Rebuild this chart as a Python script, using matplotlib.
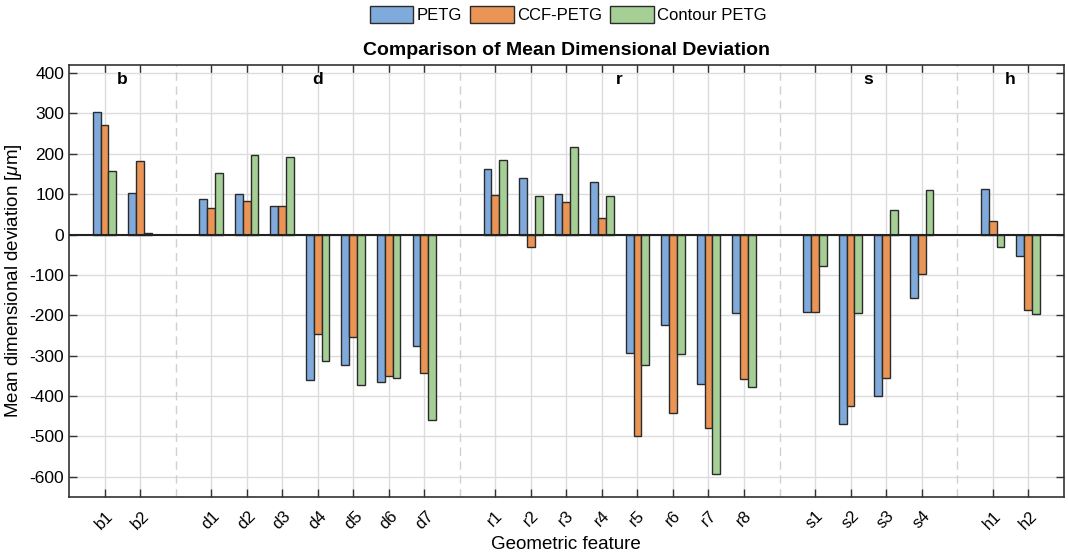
import matplotlib
matplotlib.use("Agg")
import matplotlib.pyplot as plt
import numpy as np

plt.rcParams['font.family'] = ['Liberation Sans', 'DejaVu Sans']
plt.rcParams['mathtext.fontset'] = 'custom'
plt.rcParams['mathtext.it'] = 'Liberation Sans:italic'
plt.rcParams['mathtext.rm'] = 'Liberation Sans'
plt.rcParams['axes.unicode_minus'] = False

features = ['b1', 'b2', 'd1', 'd2', 'd3', 'd4', 'd5', 'd6', 'd7',
            'r1', 'r2', 'r3', 'r4', 'r5', 'r6', 'r7', 'r8',
            's1', 's2', 's3', 's4', 'h1', 'h2']
group_names = ['b', 'd', 'r', 's', 'h']
group_sizes = [2, 7, 8, 4, 2]
series_names = ['PETG', 'CCF-PETG', 'Contour PETG']

petg = [303, 104, 88, 101, 71, -359, -323, -365, -275,
        162, 139, 101, 130, -294, -224, -370, -195,
        -191, -470, -399, -157, 114, -54]
ccf_petg = [271, 183, 66, 83, 71, -247, -254, -350, -343,
            97, -31, 80, 40, -500, -441, -480, -358,
            -191, -425, -354, -98, 34, -187]
contour_petg = [158, 3, 152, 196, 191, -313, -372, -355, -459,
                184, 96, 217, 96, -323, -297, -593, -378,
                -78, -194, 60, 111, -31, -196]

colors = ['#80aadb', '#ea9555', '#a5cf95']

# positions: groups separated by one empty slot
pos = []
group_centers = []
separators = []
x = 1
for gi, n in enumerate(group_sizes):
    start = x
    for _ in range(n):
        pos.append(x)
        x += 1
    group_centers.append((start + x - 1) / 2)
    if gi < len(group_sizes) - 1:
        separators.append(x)
        x += 1
pos = np.array(pos, dtype=float)

fig = plt.figure(figsize=(10.68, 5.57), dpi=100)
ax = fig.add_axes([0.0646, 0.1077, 0.9314, 0.7756])

w = 0.22
handles = []
for i, (vals, c, name) in enumerate(zip([petg, ccf_petg, contour_petg], colors, series_names)):
    h = ax.bar(pos + (i - 1) * w, vals, width=w, color=c, edgecolor='#2b2b2b',
               linewidth=1.0, label=name, zorder=3)
    handles.append(h)

ax.axhline(0, color='#222222', linewidth=1.5, zorder=4)

for s in separators:
    ax.axvline(s, color='#d0d0d0', linestyle=(0, (6, 4)), linewidth=1.0, zorder=1)

for gc, gn in zip(group_centers, group_names):
    ax.text(gc, 385, gn, ha='center', va='center', fontsize=12.5, fontweight='bold')

ax.set_xlim(0, 28)
ax.set_ylim(-650, 420)
ax.set_yticks(np.arange(-600, 401, 100))
ax.set_xticks(pos)
ax.set_xticklabels(features, rotation=45, ha='center', fontsize=12)
ax.tick_params(axis='y', labelsize=12.5, direction='in', length=6, right=True, width=1, color='#333333')
ax.tick_params(axis='x', direction='in', length=6, top=True, width=1, color='#333333', pad=8)
ax.grid(True, color='#dcdcdc', linewidth=1.0, zorder=0)
ax.set_axisbelow(True)
for sp in ax.spines.values():
    sp.set_color('#333333')
    sp.set_linewidth(1.2)

ax.set_xlabel('Geometric feature', fontsize=13.5, labelpad=3)
ax.set_ylabel('Mean dimensional deviation [$\\mu$m]', fontsize=13.5, labelpad=4)
ax.set_title('Comparison of Mean Dimensional Deviation', fontsize=14, fontweight='bold', pad=7)

fig.legend(handles=handles, labels=series_names, loc='center', bbox_to_anchor=(0.532, 0.974),
           ncol=3, frameon=False, fontsize=12, handlelength=2.6, handleheight=1.2,
           handletextpad=0.2, columnspacing=0.5, borderaxespad=0)

fig.savefig('out.png', dpi=100)
